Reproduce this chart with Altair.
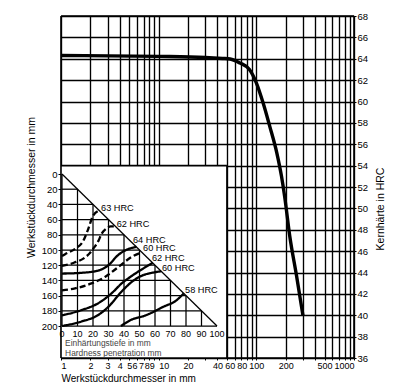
import altair as alt
import pandas as pd

FONT = "Liberation Sans"

# ---------------- main chart data ----------------
main_diam = [1, 10, 30, 45, 54, 68, 85, 100, 117, 137, 162, 181, 195, 220, 258, 300]
main_hrc = [64.3, 64.22, 64.12, 64.03, 63.98, 63.6, 63.0, 61.75, 59.9, 57.7, 55.2, 53.0, 51.1, 47.4, 43.7, 40.0]

x_grid = [1, 2, 3, 4, 5, 6, 7, 8, 9, 10, 20, 30, 40, 50, 60, 70, 80, 90, 100,
          200, 300, 400, 500, 600, 700, 800, 900, 1000]
x_labels = [1, 2, 3, 4, 5, 6, 7, 8, 9, 10, 20, 40, 60, 80, 100, 200, 500, 1000]
x_labels_right = [6, 7, 8, 9, 60, 80, 1000]
x_labels_left = [1, 10]
y_ticks = list(range(36, 70, 2))

# inset region in main coordinates (diameter 1..50, HRC 36..54)
inset_d = [1, 50]
inset_h = [36, 54]

# ---------------- inset data ----------------
s63_x = [0, 2, 8.4, 13.7, 17, 20, 24]
s63_y = [108, 105.5, 98.5, 88, 72, 55, 48]
s62a_x = [0, 8, 14, 18, 21, 23.5, 25.5, 28.5, 31.5, 34.5]
s62a_y = [121, 116.5, 111, 104, 96, 88, 79, 72, 69, 69]
s64_x = [0, 12.7, 23.4, 30, 36, 43, 48]
s64_y = [131, 130, 127, 120, 107, 98.5, 96]
s60a_x = [0, 8.4, 19, 27.7, 36.3, 45, 51.5]
s60a_y = [153, 150.5, 144, 135.5, 122.5, 109, 103]
s62b_x = [0, 12.7, 23.4, 32, 38.5, 44, 50.3, 58.5]
s62b_y = [186, 179, 170, 157, 144, 135.5, 127, 117]
s60b_x = [0, 12.7, 23.4, 31, 37.4, 45, 52.4, 58, 64]
s60b_y = [200, 194, 185.5, 172.5, 157, 142, 133, 130, 128]
s58_x = [38, 44, 54.6, 65.4, 74, 78.5]
s58_y = [200, 192.5, 185.5, 174.7, 166, 157]

series = [
    ("63", "dashed", s63_x, s63_y),
    ("62a", "dashed", s62a_x, s62a_y),
    ("64", "solid", s64_x, s64_y),
    ("60a", "dashed", s60a_x, s60a_y),
    ("62b", "solid", s62b_x, s62b_y),
    ("60b", "solid", s60b_x, s60b_y),
    ("58", "solid", s58_x, s58_y),
]

label_text = ["63 HRC", "62 HRC", "64 HRC", "60 HRC", "62 HRC", "60 HRC", "58 HRC"]
label_x = [25.2, 35.3, 45.8, 52.3, 58.0, 64.5, 79.4]
label_y = [44.4, 65.4, 86.3, 98.0, 111.0, 124.0, 153.0]

pen_ticks = list(range(0, 101, 10))
dia_ticks = list(range(0, 201, 20))

# ---------------- build tables ----------------
main_df = pd.DataFrame({"d": main_diam, "h": main_hrc})
frame_df = pd.DataFrame({
    "d": [1, 1, 1, 1000, inset_d[0], inset_d[1]],
    "d2": [1000, 1000, 1, 1000, inset_d[1], inset_d[1]],
    "h": [68, 36, 36, 36, inset_h[1], inset_h[0]],
    "h2": [68, 36, 68, 68, inset_h[1], inset_h[1]],
})
rect_df = pd.DataFrame({"d": [inset_d[0]], "d2": [inset_d[1]], "h": [inset_h[0]], "h2": [inset_h[1]]})

rows = []
for name, style, xs, ys in series:
    for i, (a, b) in enumerate(zip(xs, ys)):
        rows.append({"s": name, "style": style, "x": a, "y": b, "o": i})
curve_df = pd.DataFrame(rows)

grid_rows = []
for v in range(10, 100, 10):
    grid_rows.append({"x": v, "x2": v, "y": 2 * v, "y2": 200})
for hh in range(20, 201, 20):
    grid_rows.append({"x": 0, "x2": hh / 2, "y": hh, "y2": hh})
grid_rows.append({"x": 0, "x2": 100, "y": 0, "y2": 200})
grid_rows.append({"x": 0, "x2": 0, "y": 0, "y2": 200})
igrid_df = pd.DataFrame(grid_rows)

lab_df = pd.DataFrame({"x": label_x, "y": label_y, "t": label_text})
pen_df = pd.DataFrame({"x": pen_ticks, "y": [200] * len(pen_ticks), "t": [str(v) for v in pen_ticks]})
note_df = pd.DataFrame({"x": [2, 2], "y": [222, 235],
                        "t": ["Einhärtungstiefe in mm", "Hardness penetration mm"]})

# ---------------- main scales / axes ----------------
def js_list(vals):
    return "[" + ",".join(str(v) for v in vals) + "]"

ax_x = alt.Axis(values=x_grid, grid=True, gridColor="black", gridWidth=1.35,
                labelExpr=f"indexof({js_list(x_labels)}, datum.value) >= 0 ? format(datum.value, 'd') : ''",
                labelAlign={"condition": [
                    {"test": f"indexof({js_list(x_labels_right)}, datum.value) >= 0", "value": "right"},
                    {"test": f"indexof({js_list(x_labels_left)}, datum.value) >= 0", "value": "left"}],
                    "value": "center"},
                labelOverlap=False, labelFontSize=9, labelFont=FONT, labelColor="black",
                tickSize=2, tickColor="black", labelPadding=1, domain=False,
                title="Werkstückdurchmesser in mm", titleX=0, titleY=23, titleAlign="left",
                titleAnchor="start", titleBaseline="alphabetic", titleFontSize=10,
                titleFontWeight="normal", titleFont=FONT, titleColor="black")
ax_y = alt.Axis(orient="right", values=y_ticks, grid=True, gridColor="black", gridWidth=1.35,
                labelFontSize=9.5, labelFont=FONT, labelColor="black", tickSize=2,
                tickColor="black", labelPadding=1, domain=False,
                title="Kernhärte in HRC", titleAngle=270, titleX=26, titleY=192.5,
                titleAlign="center", titleBaseline="middle", titleFontSize=10.5,
                titleFontWeight="normal", titleFont=FONT, titleColor="black")
sx = alt.Scale(type="log", domain=[1, 1000], nice=False)
sy = alt.Scale(domain=[36, 68], nice=False, zero=False)
MX = alt.X("d:Q", scale=sx, axis=ax_x)
MY = alt.Y("h:Q", scale=sy, axis=ax_y)

main_line = alt.Chart(main_df).mark_line(color="black", strokeWidth=3.4, interpolate="monotone").encode(
    x=MX, y=MY)
white = alt.Chart(rect_df).mark_rect(fill="white", stroke=None).encode(
    x=MX, x2="d2:Q", y=MY, y2="h2:Q")
frame = alt.Chart(frame_df).mark_rule(color="black", strokeWidth=1.6).encode(
    x=MX, x2="d2:Q", y=MY, y2="h2:Q")
main = alt.layer(main_line, white, frame)

# ---------------- inset scales / axes ----------------
ax_iy = alt.Axis(orient="left", values=dia_ticks, grid=False, domain=False, tickSize=3,
                 tickColor="black", labelPadding=1, labelFontSize=9.5, labelFont=FONT,
                 labelColor="black", title="Werkstückdurchmesser in mm", titleX=-30,
                 titleY=171, titleAngle=270, titleAlign="center", titleBaseline="middle",
                 titleFontSize=10.5, titleFontWeight="normal", titleFont=FONT, titleColor="black")
isx = alt.Scale(domain=[0, 100], range=[1, 156], nice=False, zero=False)
isy = alt.Scale(domain=[0, 200], range=[158, 310], nice=False, zero=False)
IX = alt.X("x:Q", scale=isx, axis=None)
IY = alt.Y("y:Q", scale=isy, axis=ax_iy)

igrid = alt.Chart(igrid_df).mark_rule(color="black", strokeWidth=1.25).encode(
    x=IX, x2="x2:Q", y=IY, y2="y2:Q")
icurves = alt.Chart(curve_df).mark_line(color="black", strokeWidth=2.3, interpolate="monotone").encode(
    x=IX, y=IY, detail="s:N", order="o:Q",
    strokeDash=alt.StrokeDash("style:N", scale=alt.Scale(domain=["solid", "dashed"],
                                                         range=[[1, 0], [6, 3]]), legend=None))
ilabels = alt.Chart(lab_df).mark_text(align="left", baseline="middle", fontSize=9.2, font=FONT,
                                      color="black").encode(x=IX, y=IY, text="t:N")
ipen = alt.Chart(pen_df).mark_text(align="center", baseline="middle", dy=8, fontSize=9, font=FONT,
                                   color="black").encode(x=IX, y=IY, text="t:N")
inotes = alt.Chart(note_df).mark_text(align="left", baseline="middle", fontSize=8.4, font=FONT,
                                      color="#444").encode(x=IX, y=IY, text="t:N")
inset = alt.layer(igrid, icurves, ilabels, ipen, inotes)

chart = alt.layer(main, inset).resolve_scale(x="independent", y="independent").properties(
    width=293, height=342,
    padding={"left": 53, "top": 8, "right": 38, "bottom": 24},
    autosize=alt.AutoSizeParams(type="none"),
    background="white",
).configure_view(stroke=None)

chart.save("out.html", embed_options={"renderer": "svg", "actions": False})
